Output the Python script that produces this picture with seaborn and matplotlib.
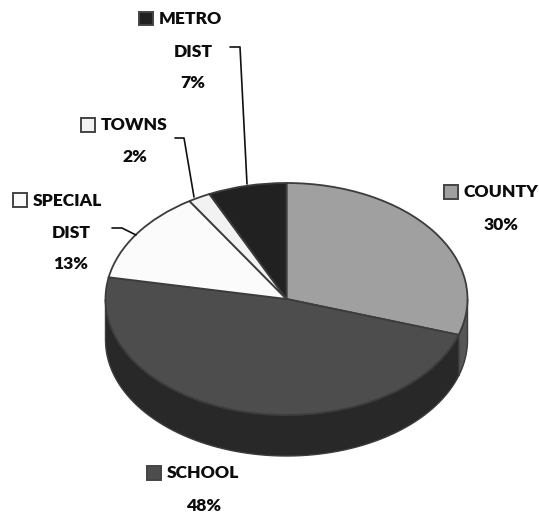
import matplotlib
matplotlib.use("Agg")
import matplotlib.pyplot as plt
from matplotlib.patches import Rectangle
import numpy as np
import seaborn as sns

# slices, clockwise from 12 o'clock
categories = ['COUNTY', 'SCHOOL', 'SPECIAL DIST', 'TOWNS', 'METRO DIST']
shares = [30, 48, 13, 2, 7]
top_colors = ['#a0a0a0', '#4d4d4d', '#fbfbfb', '#f2f2f2', '#212121']
side_colors = ['#565656', '#282828', '#b0b0b0', '#a8a8a8', '#111111']

W, H = 539, 517
CX, CY, RX, RY, DEPTH = 286.5, 299, 181, 116, 41
EDGE = '#3c3c3c'

sns.set_theme(style='white')
plt.rcParams['font.family'] = ['Lato', 'DejaVu Sans']


def px(x, y):
    """Image pixel position to data position (unit circle squashed to the ellipse)."""
    return (x - CX) / RX, (CY - y) / RY


def draw_sides(ax, shares, colors):
    """Draw the visible wall of the pie under the top face."""
    depth = DEPTH / RY
    start = 90.0
    for share, color in zip(shares, colors):
        end = start - share * 3.6
        # only the lower half of the rim faces the viewer
        a0, a1 = (end % 360), ((end % 360) + share * 3.6)
        lo, hi = max(a0, 180), min(a1, 360)
        if hi > lo:
            t = np.radians(np.linspace(lo, hi, 80))
            xs = np.concatenate([np.cos(t), np.cos(t[::-1])])
            ys = np.concatenate([np.sin(t), np.sin(t[::-1]) - depth])
            ax.fill(xs, ys, facecolor=color, edgecolor=EDGE, lw=1.0, zorder=1)
        start = end


def label(ax, swatch_xy, color, lines):
    """One data label: colour key, then bold centred text lines."""
    x, y = swatch_xy
    x0, y0 = px(x, y)
    ax.add_patch(Rectangle((x0, y0), 14 / RX, -14 / RY, facecolor=color,
                           edgecolor='#444444', lw=1.4, zorder=5))
    for (tx, ty, ha, txt) in lines:
        ax.text(*px(tx, ty), txt, ha=ha, va='center', fontsize=12.6,
                fontweight='heavy', color='#0c0c0c', zorder=5)


def leader(ax, points):
    xs, ys = zip(*[px(*p) for p in points])
    ax.plot(xs, ys, color='#111111', lw=1.2, zorder=6)


fig = plt.figure(figsize=(W / 100, H / 100), dpi=100)
ax = fig.add_axes([0, 0, 1, 1])

draw_sides(ax, shares, side_colors)
ax.pie(shares, colors=top_colors, startangle=90, counterclock=False, radius=1,
       wedgeprops={'edgecolor': EDGE, 'linewidth': 1.3, 'zorder': 2})
ax.set_aspect('auto')
ax.set_xlim(px(0, 0)[0], px(W, 0)[0])
ax.set_ylim(px(0, H)[1], px(0, 0)[1])
ax.axis('off')

label(ax, (138.5, 11.5), top_colors[4], [(159, 19, 'left', 'METRO'),
                                         (193, 52, 'center', 'DIST'),
                                         (193, 83, 'center', '7%')])
label(ax, (80.5, 117.5), top_colors[3], [(101, 125, 'left', 'TOWNS'),
                                         (135, 157, 'center', '2%')])
label(ax, (12.5, 192.5), top_colors[2], [(33, 201, 'left', 'SPECIAL'),
                                         (71, 233, 'center', 'DIST'),
                                         (71, 264, 'center', '13%')])
label(ax, (444, 184.5), top_colors[0], [(464, 192, 'left', 'COUNTY'),
                                        (501, 225, 'center', '30%')])
label(ax, (146.5, 465.5), top_colors[1], [(167, 473, 'left', 'SCHOOL'),
                                          (204, 506, 'center', '48%')])

leader(ax, [(230, 47), (240, 47), (247, 184)])
leader(ax, [(175, 138), (184, 138), (194, 197)])
leader(ax, [(112, 228), (122, 228), (136, 235)])

fig.savefig('out.png', dpi=100)
